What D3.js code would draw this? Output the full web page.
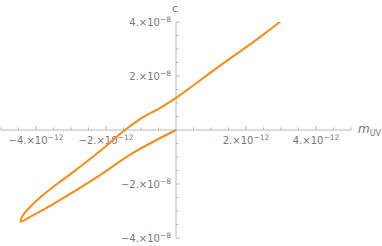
<!DOCTYPE html>
<html>
<head>
<meta charset="utf-8">
<script src="https://cdn.jsdelivr.net/npm/d3@7"></script>
<style>
  body { margin: 0; background: #fff; }
  svg { display: block; font-family: "DejaVu Sans", sans-serif; }
</style>
</head>
<body>
<div id="chart"></div>
<script>
// curve values, x in units of 1e-12, y in units of 1e-8
const lowerX = [0, -1.23, -2.17, -3.31, -3.80, -4.17, -4.44];
const lowerY = [0, -0.85, -1.67, -2.59, -2.96, -3.22, -3.39];
const upperX = [-4.36, -4.17, -3.80, -3.40, -2.94, -2.17, -1.46, -0.94, -0.46, 0, 1.17, 2.40, 3.03];
const upperY = [-3.14, -2.85, -2.41, -2.00, -1.56, -0.78, 0.0, 0.48, 0.81, 1.19, 2.30, 3.44, 4.07];

const xTicks = [-4, -2, 2, 4];
const xTickLabels = ["\u22124.\u00d710", "\u22122.\u00d710", "2.\u00d710", "4.\u00d710"];
const yTicks = [-4, -2, 2, 4];
const yTickLabels = ["\u22124.\u00d710", "\u22122.\u00d710", "2.\u00d710", "4.\u00d710"];

const width = 382, height = 246;
const axisColor = "#b8b8b8";
const labelColor = "#777";
const lineColor = "#f98b16";

const x = d3.scaleLinear().domain([-5, 5]).range([1, 351]);
const y = d3.scaleLinear().domain([-4, 4]).range([238, 22]);

const svg = d3.select("#chart")
    .append("svg")
    .attr("width", width)
    .attr("height", height);

svg.append("defs").append("clipPath")
    .attr("id", "clip")
    .append("rect")
    .attr("x", x(-5)).attr("y", y(4))
    .attr("width", x(5) - x(-5)).attr("height", y(-4) - y(4));

// axes lines
svg.append("line")
    .attr("x1", x(-5)).attr("x2", x(5))
    .attr("y1", y(0)).attr("y2", y(0))
    .attr("stroke", axisColor);
svg.append("line")
    .attr("x1", x(0)).attr("x2", x(0))
    .attr("y1", y(-4)).attr("y2", y(4))
    .attr("stroke", axisColor);

// ticks (major every 2, minor every 0.5)
const xMinor = d3.range(-5, 5.01, 0.5).filter(v => v !== 0);
svg.selectAll(".xt")
    .data(xMinor)
    .enter()
    .append("line")
    .attr("x1", d => x(d)).attr("x2", d => x(d))
    .attr("y1", y(0))
    .attr("y2", d => y(0) - (d % 2 === 0 ? 4 : 2.5))
    .attr("stroke", axisColor);

const yMinor = d3.range(-4, 4.01, 0.5).filter(v => v !== 0);
svg.selectAll(".yt")
    .data(yMinor)
    .enter()
    .append("line")
    .attr("y1", d => y(d)).attr("y2", d => y(d))
    .attr("x1", x(0))
    .attr("x2", d => x(0) + (d % 2 === 0 ? 4 : 2.5))
    .attr("stroke", axisColor);

// x tick labels
const xl = svg.selectAll(".xl")
    .data(xTicks)
    .enter()
    .append("text")
    .attr("x", d => x(d))
    .attr("y", y(0) + 14)
    .attr("text-anchor", "middle")
    .attr("fill", labelColor)
    .style("font-size", "10px");
xl.append("tspan").text((d, i) => xTickLabels[i]);
xl.append("tspan").attr("dy", -4).style("font-size", "7.5px").text("\u221212");

// y tick labels
const yl = svg.selectAll(".yl")
    .data(yTicks)
    .enter()
    .append("text")
    .attr("x", x(0) - 5)
    .attr("y", d => y(d) + 3.5)
    .attr("text-anchor", "end")
    .attr("fill", labelColor)
    .style("font-size", "10px");
yl.append("tspan").text((d, i) => yTickLabels[i]);
yl.append("tspan").attr("dy", -4).style("font-size", "7.5px").text("\u22128");

// axis labels
svg.append("text")
    .attr("x", x(0) - 1)
    .attr("y", 12)
    .attr("text-anchor", "middle")
    .attr("fill", labelColor)
    .style("font-size", "11px")
    .text("c");

const ml = svg.append("text")
    .attr("x", 358)
    .attr("y", y(0) + 3)
    .attr("fill", labelColor)
    .style("font-size", "12px");
ml.append("tspan").style("font-style", "italic").text("m");
ml.append("tspan").attr("dy", 3).style("font-size", "8px").text("UV");

// curve: lower branch from the origin to the tip, then upper branch
const pts = lowerX.map((v, i) => [v, lowerY[i]])
    .concat(upperX.map((v, i) => [v, upperY[i]]));

const line = d3.line()
    .x(d => x(d[0]))
    .y(d => y(d[1]))
    .curve(d3.curveCatmullRom.alpha(0.5));

svg.append("path")
    .datum(pts)
    .attr("clip-path", "url(#clip)")
    .attr("d", line)
    .attr("fill", "none")
    .attr("stroke", lineColor)
    .attr("stroke-width", 2);
</script>
</body>
</html>
